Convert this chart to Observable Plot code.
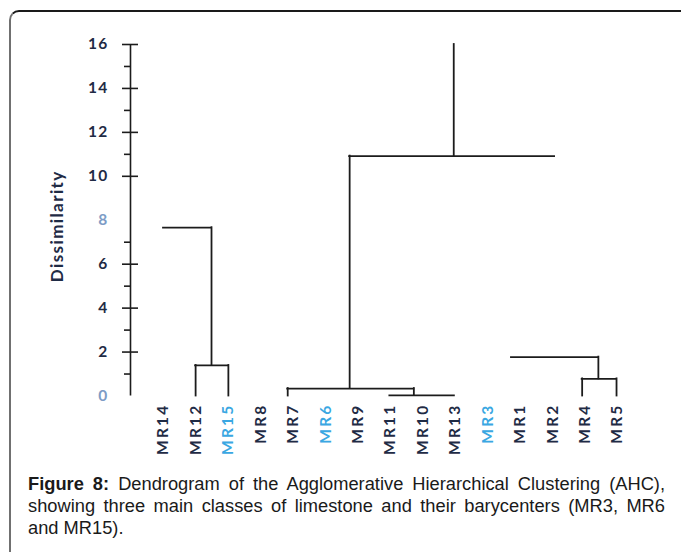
<!DOCTYPE html>
<html>
<head>
<meta charset="utf-8">
<script src="https://cdn.jsdelivr.net/npm/d3@7"></script>
<script src="https://cdn.jsdelivr.net/npm/@observablehq/plot@0.6"></script>
<style>
  html, body { margin: 0; padding: 0; background: #fff; width: 681px; height: 552px; overflow: hidden; }
  #frame { position: absolute; left: 9px; top: 10px; width: 720px; height: 600px;
           border-top: 2px solid #1a1a1a; border-left: 2px solid #707070; border-top-left-radius: 10px; }
  #chart { position: absolute; left: 0; top: 0; }
  #caption { position: absolute; left: 28px; top: 473px; width: 637px;
             font-family: "Liberation Sans", Arial, sans-serif; font-size: 18.3px; line-height: 22px;
             color: #1a1a1a; margin: 0; }
  #caption .j { text-align: justify; text-align-last: justify; white-space: nowrap; }
  #caption b { font-weight: bold; }
</style>
</head>
<body>
<div id="frame"></div>
<div id="chart"></div>
<div id="caption">
  <div class="j"><b>Figure 8:</b> Dendrogram of the Agglomerative Hierarchical Clustering (AHC),</div>
  <div class="j">showing three main classes of limestone and their barycenters (MR3, MR6</div>
  <div>and MR15).</div>
</div>
<script>
// Leaves (left to right) and the barycenters highlighted in blue
const leaves = ["MR14","MR12","MR15","MR8","MR7","MR6","MR9","MR11","MR10","MR13","MR3","MR1","MR2","MR4","MR5"];
const barycenters = ["MR15","MR6","MR3"];

// Horizontal links: [x1, x2, dissimilarity] (x in leaf-index units)
const hLinks = [
  [0.99, 2.00, 1.39],
  [0.00, 1.48, 7.66],
  [3.83, 7.72, 0.34],
  [6.98, 8.97, 0.03],
  [5.74, 12.06, 10.92],
  [10.73, 13.41, 1.77],
  [12.91, 13.97, 0.78]
];
// Vertical links: [x, dissimilarity from, dissimilarity to]
const vLinks = [
  [0.99, 0, 1.39],
  [2.00, 0, 1.39],
  [1.48, 1.39, 7.66],
  [3.83, 0, 0.34],
  [7.72, 0.03, 0.34],
  [5.74, 0.34, 10.92],
  [8.95, 10.92, 16],
  [13.41, 0.78, 1.77],
  [12.91, 0, 0.78],
  [13.97, 0, 0.78]
];

// Y axis ticks as drawn in the figure
const majorTicks = [2, 4, 6, 10, 12, 14, 16];
const minorTicks = [1, 3, 5, 7, 11, 13, 15];
const tickLabels = [0, 2, 4, 6, 8, 10, 12, 14, 16];
const fadedLabels = [0, 8];
const yTitle = "Dissimilarity";

const xMin = -1.018, xMax = 14;
const lineColor = "#1c1c1c";
const navy = "#1f2b45";
const blue = "#3aa7e2";
const font = "Lato, 'Open Sans', sans-serif";

const leafRows = leaves.map((d, i) => ({name: d, i}));

const chart = Plot.plot({
  width: 681,
  height: 465,
  marginLeft: 130,
  marginRight: 64,
  marginTop: 44,
  marginBottom: 69.5,
  x: {domain: [xMin, xMax], axis: null},
  y: {domain: [0, 16], axis: null},
  style: {background: "transparent"},
  marks: [
    Plot.ruleX([xMin], {y1: 0, y2: 16, stroke: lineColor, strokeWidth: 1.6}),
    Plot.axisY(majorTicks, {anchor: "left", tickSize: 16, dx: 8, tickFormat: () => "", label: null, stroke: lineColor, strokeWidth: 1.6}),
    Plot.axisY(minorTicks, {anchor: "left", tickSize: 6, tickFormat: () => "", label: null, stroke: lineColor, strokeWidth: 1.6}),
    Plot.text(tickLabels.filter(d => !fadedLabels.includes(d)), {x: () => xMin, y: d => d, text: d => String(d), dx: -22, textAnchor: "end",
      fill: navy, fontSize: 15.5, fontWeight: "bold", fontFamily: font}),
    Plot.text(fadedLabels, {x: () => xMin, y: d => d, text: d => String(d), dx: -22, textAnchor: "end",
      fill: "#7d9cc6", fontSize: 15.5, fontWeight: "bold", fontFamily: font}),
    Plot.text([yTitle], {frameAnchor: "left", dx: -73, dy: 6, rotate: -90, textAnchor: "middle", lineAnchor: "middle",
      fill: navy, fontSize: 17, fontWeight: "bold", fontFamily: font}),
    Plot.ruleY(hLinks, {y: d => d[2], x1: d => d[0], x2: d => d[1], stroke: lineColor, strokeWidth: 1.8, strokeLinecap: "square"}),
    Plot.ruleX(vLinks, {x: d => d[0], y1: d => d[1], y2: d => d[2], stroke: lineColor, strokeWidth: 1.8, strokeLinecap: "square"}),
    Plot.text(leafRows.filter(d => !barycenters.includes(d.name)),
      {x: d => d.i, text: d => d.name, frameAnchor: "bottom", dy: 7.5, rotate: -90, textAnchor: "end", lineAnchor: "middle",
       fill: navy, fontSize: 15.5, fontWeight: "bold", fontFamily: font}),
    Plot.text(leafRows.filter(d => barycenters.includes(d.name)),
      {x: d => d.i, text: d => d.name, frameAnchor: "bottom", dy: 7.5, rotate: -90, textAnchor: "end", lineAnchor: "middle",
       fill: blue, fontSize: 15.5, fontWeight: "bold", fontFamily: font})
  ]
});
chart.querySelectorAll("text").forEach(t => {
  const txt = t.textContent;
  if (/^MR/.test(txt)) t.setAttribute("letter-spacing", "2.2");
  else if (txt === yTitle) t.setAttribute("letter-spacing", "1.4");
  else if (/^\d+$/.test(txt)) t.setAttribute("letter-spacing", "1.2");
});
document.getElementById("chart").appendChild(chart);
</script>
</body>
</html>
